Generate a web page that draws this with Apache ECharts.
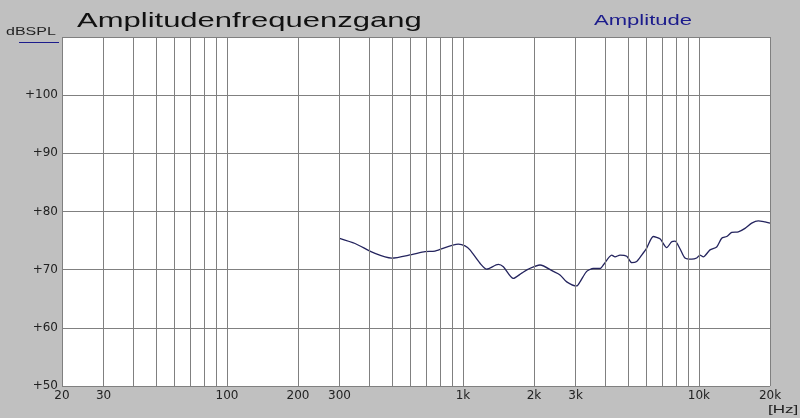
<!DOCTYPE html>
<html>
<head>
<meta charset="utf-8">
<script src="https://cdn.jsdelivr.net/npm/echarts@6/dist/echarts.min.js"></script>
<style>
  html, body { margin: 0; padding: 0; background: #c0c0c0; }
  #chart { width: 800px; height: 418px; }
</style>
</head>
<body>
<div id="chart"></div>
<script>
// Frequenzgang
const freqHz = [300, 349, 424, 499, 606, 691, 761, 956, 1020, 1071, 1181, 1261, 1412, 1483, 1634,
  1774, 1892, 2121, 2415, 2578, 2752, 3034, 3133, 3344, 3568, 3808, 3933, 4269, 4409, 4629,
  4942, 5189, 5448, 5720, 6004, 6405, 6838, 7301, 7664, 7915, 8310, 8726, 9317, 9782, 10102,
  10433, 11138, 11890, 12484, 13109, 13763, 14679, 15672, 16730, 17842, 19050, 20000]
const splDb = [75.4, 74.5, 72.8, 72.0, 72.6, 73.1, 73.2, 74.4, 74.1, 73.4, 71.1, 70.1, 70.9, 70.5, 68.5,
  69.4, 70.1, 70.8, 69.7, 69.1, 67.9, 67.2, 67.9, 69.7, 70.2, 70.2, 70.8, 72.5, 72.2, 72.5,
  72.3, 71.2, 71.4, 72.5, 73.7, 75.7, 75.3, 73.8, 74.8, 74.9, 73.6, 72.0, 71.8, 72.0, 72.5,
  72.2, 73.4, 73.9, 75.4, 75.7, 76.4, 76.5, 77.1, 78.0, 78.4, 78.2, 78.0]

// vertikale Gitterlinien (Hz) und beschriftete Ticks
const gridFreqs = [20, 30, 40, 50, 60, 70, 80, 90, 100, 200, 300, 400, 500, 600, 700, 800, 900,
  1000, 2000, 3000, 4000, 5000, 6000, 7000, 8000, 9000, 10000, 20000]
const xTickFreqs = [20, 30, 100, 200, 300, 1000, 2000, 3000, 10000, 20000]
const xTickLabels = ['20', '30', '100', '200', '300', '1k', '2k', '3k', '10k', '20k']

const yMin = 50, yMax = 110, yStep = 10

const chart = echarts.init(document.getElementById('chart'))

const labelFont = 'DejaVu Sans'
const gridColor = '#808080'

const markData = gridFreqs.map(f => {
  const i = xTickFreqs.indexOf(f)
  return {
    xAxis: f,
    label: i >= 0
      ? { show: true, position: 'start', formatter: xTickLabels[i], distance: 4,
          color: '#222', fontSize: 12, fontFamily: labelFont }
      : { show: false }
  }
})

chart.setOption({
  backgroundColor: '#c0c0c0',
  animation: false,
  grid: {
    left: 62, right: 30, top: 37, bottom: 32,
    show: true, backgroundColor: '#ffffff', borderWidth: 0
  },
  xAxis: {
    type: 'log',
    logBase: 10,
    min: 20,
    max: 20000,
    axisLine: { show: false },
    axisTick: { show: false },
    axisLabel: { show: false },
    splitLine: { show: false }
  },
  yAxis: {
    type: 'value',
    min: yMin,
    max: yMax,
    interval: yStep,
    axisLine: { show: false },
    axisTick: { show: false },
    axisLabel: {
      margin: 4,
      color: '#222',
      fontSize: 12,
      fontFamily: labelFont,
      formatter: v => (v === yMax ? '' : '+' + v)
    },
    splitLine: { lineStyle: { color: gridColor, width: 1 } }
  },
  graphic: [
    { type: 'text', x: 77, y: 21.5, scaleX: 1.55, z: 10,
      style: { text: 'Amplitudenfrequenzgang', font: '20px "Liberation Sans"', fill: '#111',
               verticalAlign: 'middle' } },
    { type: 'text', x: 594, y: 20.5, scaleX: 1.47, z: 10,
      style: { text: 'Amplitude', font: '15px "Liberation Sans"', fill: '#1c1c8c',
               verticalAlign: 'middle' } },
    { type: 'text', x: 6, y: 32.5, scaleX: 1.6, z: 10,
      style: { text: 'dBSPL', font: '10px "Liberation Sans"', fill: '#222',
               verticalAlign: 'middle' } },
    { type: 'line', z: 10,
      shape: { x1: 19, y1: 42.5, x2: 59, y2: 42.5 },
      style: { stroke: '#1c1c8c', lineWidth: 1 } },
    { type: 'text', x: 768, y: 410, scaleX: 1.55, z: 10,
      style: { text: '[Hz]', font: '11px "Liberation Sans"', fill: '#222',
               verticalAlign: 'middle' } }
  ],
  series: [
    {
      name: 'grid',
      type: 'line',
      data: [],
      z: 1,
      silent: true,
      markLine: {
        silent: true,
        symbol: ['none', 'none'],
        animation: false,
        lineStyle: { color: gridColor, width: 1, type: 'solid' },
        emphasis: { disabled: true },
        data: markData
      }
    },
    {
      name: 'Amplitude',
      type: 'line',
      z: 3,
      smooth: 0.25,
      showSymbol: false,
      silent: true,
      lineStyle: { color: '#24245e', width: 1.3 },
      data: freqHz.map((f, i) => [f, splDb[i]])
    }
  ]
})
</script>
</body>
</html>
